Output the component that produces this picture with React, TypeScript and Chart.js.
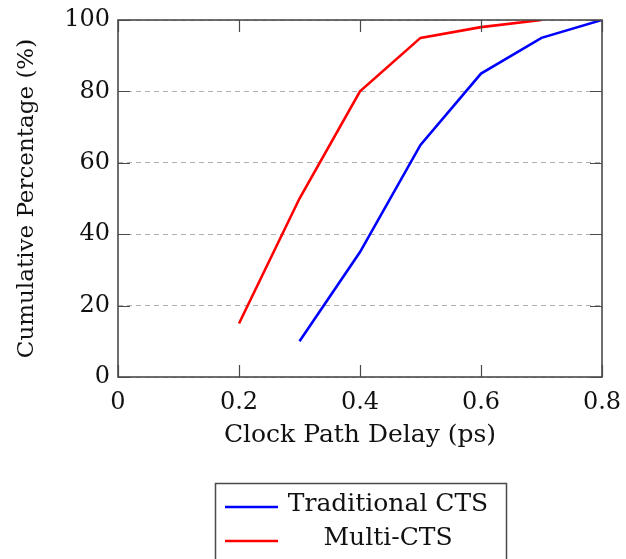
import React, { useEffect, useRef } from "react";
import { Chart, registerables } from "chart.js";

Chart.register(...registerables);

// Cumulative distribution of clock path delay for two CTS flows
const delayTicks = [0, 0.2, 0.4, 0.6, 0.8];
const traditionalDelay = [0.3, 0.4, 0.5, 0.6, 0.7, 0.8];
const traditionalPct = [10, 35, 65, 85, 95, 100];
const multiDelay = [0.2, 0.3, 0.4, 0.5, 0.6, 0.7];
const multiPct = [15, 50, 80, 95, 98, 100];
const seriesLabels = ["Traditional CTS", "Multi-CTS"];
const seriesColors = ["#0000ff", "#ff0000"];

const FONT = "'DejaVu Serif', serif";
const INK = "#111111";
const FRAME = "#4a4a4a";

// Closed frame with short inward tick marks on all four sides
const framePlugin = {
  id: "frameTicks",
  afterDraw(chart: any) {
    const { ctx, chartArea: a, scales } = chart;
    const len = 12;
    ctx.save();
    ctx.strokeStyle = FRAME;
    ctx.lineWidth = 1.2;
    ctx.beginPath();
    scales.x.ticks.forEach((t: any) => {
      const px = Math.round(scales.x.getPixelForValue(t.value)) + 0.5;
      ctx.moveTo(px, a.bottom);
      ctx.lineTo(px, a.bottom - len);
      ctx.moveTo(px, a.top);
      ctx.lineTo(px, a.top + len);
    });
    scales.y.ticks.forEach((t: any) => {
      const py = Math.round(scales.y.getPixelForValue(t.value)) + 0.5;
      ctx.moveTo(a.left, py);
      ctx.lineTo(a.left + len, py);
      ctx.moveTo(a.right, py);
      ctx.lineTo(a.right - len, py);
    });
    ctx.stroke();
    ctx.lineWidth = 1.6;
    ctx.strokeRect(a.left, a.top, a.right - a.left, a.bottom - a.top);
    ctx.restore();
  },
};

// Boxed legend below the axis title
const boxLegendPlugin = {
  id: "boxLegend",
  afterDraw(chart: any) {
    const { ctx } = chart;
    const box = { x: 215.5, y: 483.5, w: 291, h: 120 };
    const rows = [507, 541];
    const textCenter = 388;
    ctx.save();
    ctx.strokeStyle = FRAME;
    ctx.lineWidth = 1.5;
    ctx.strokeRect(box.x, box.y, box.w, box.h);
    ctx.font = `25px ${FONT}`;
    ctx.textAlign = "center";
    ctx.textBaseline = "middle";
    chart.data.datasets.forEach((ds: any, i: number) => {
      const y = rows[i];
      ctx.strokeStyle = ds.borderColor;
      ctx.lineWidth = 2.5;
      ctx.beginPath();
      ctx.moveTo(225, y);
      ctx.lineTo(278, y);
      ctx.stroke();
      ctx.fillStyle = INK;
      ctx.fillText(ds.label, textCenter, y - 3);
    });
    ctx.restore();
  },
};

export default function App() {
  const canvasRef = useRef<HTMLCanvasElement | null>(null);

  useEffect(() => {
    if (!canvasRef.current) return;
    const toPoints = (xs: number[], ys: number[]) => xs.map((x, i) => ({ x, y: ys[i] }));
    const chart = new Chart(canvasRef.current, {
      type: "line",
      data: {
        datasets: [
          {
            label: seriesLabels[0],
            data: toPoints(traditionalDelay, traditionalPct),
            borderColor: seriesColors[0],
            backgroundColor: seriesColors[0],
            borderWidth: 2.6,
            pointRadius: 0,
            tension: 0,
          },
          {
            label: seriesLabels[1],
            data: toPoints(multiDelay, multiPct),
            borderColor: seriesColors[1],
            backgroundColor: seriesColors[1],
            borderWidth: 2.6,
            pointRadius: 0,
            tension: 0,
          },
        ],
      },
      options: {
        responsive: true,
        maintainAspectRatio: false,
        animation: false,
        layout: { padding: { top: 20, right: 24, bottom: 102, left: 0 } },
        plugins: {
          legend: { display: false },
          tooltip: { enabled: false },
        },
        scales: {
          x: {
            type: "linear",
            min: 0,
            max: 0.8,
            afterBuildTicks: (scale: any) => {
              scale.ticks = delayTicks.map((v) => ({ value: v }));
            },
            afterFit: (scale: any) => {
              scale.height = 80;
              scale.paddingLeft = 0;
              scale.paddingRight = 0;
            },
            ticks: {
              font: { family: FONT, size: 24 },
              color: INK,
              padding: 11,
              maxRotation: 0,
              callback: (v: any) => String(v),
            },
            grid: { display: false, drawTicks: false },
            border: { display: false },
            title: {
              display: true,
              text: "Clock Path Delay (ps)",
              font: { family: FONT, size: 25 },
              color: INK,
              padding: { top: 0, bottom: 7 },
            },
          },
          y: {
            min: 0,
            max: 100,
            afterFit: (scale: any) => {
              scale.width = 118;
              scale.paddingTop = 0;
              scale.paddingBottom = 0;
            },
            ticks: {
              stepSize: 20,
              font: { family: FONT, size: 24 },
              color: INK,
              padding: 8,
            },
            grid: { color: "#b0b0b0", lineWidth: 1, drawTicks: false },
            border: { display: false, dash: [5, 4] },
            title: {
              display: true,
              text: "Cumulative Percentage (%)",
              font: { family: FONT, size: 23 },
              color: INK,
              padding: { top: 13, bottom: 0 },
            },
          },
        },
      },
      plugins: [framePlugin, boxLegendPlugin],
    });
    return () => chart.destroy();
  }, []);

  return (
    <div
      style={{
        position: "fixed",
        left: 0,
        top: 0,
        width: 626,
        height: 559,
        background: "#ffffff",
      }}
    >
      <canvas ref={canvasRef} />
    </div>
  );
}
